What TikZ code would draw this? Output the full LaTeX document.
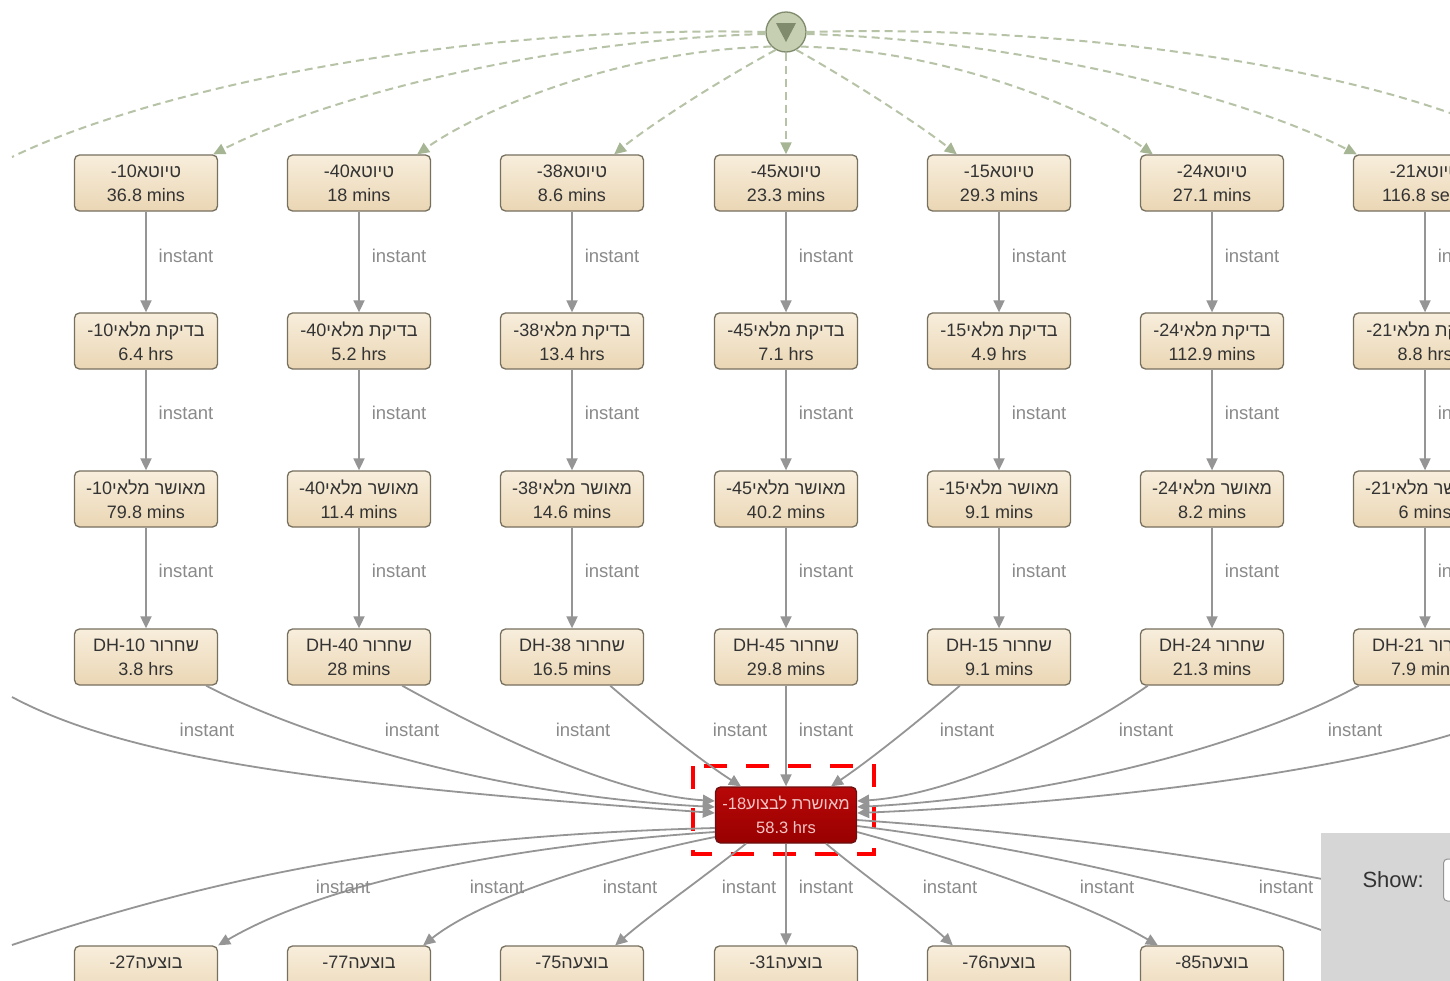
\documentclass[tikz,border=0pt]{standalone}
\usepackage{fontspec}
\setmainfont{Liberation Sans}
\newfontfamily\heb[Script=Hebrew]{Liberation Sans}
\TeXXeTstate=1
\usetikzlibrary{arrows.meta,shapes.geometric,calc}
\newcommand{\hb}[1]{{\heb\beginR #1\endR}}
\definecolor{boxtop}{HTML}{F8EEDC}
\definecolor{boxbot}{HTML}{EAD6B4}
\definecolor{boxline}{HTML}{77705F}
\definecolor{txt}{HTML}{333333}
\definecolor{edgec}{HTML}{959595}
\definecolor{lblc}{HTML}{8A8A8A}
\definecolor{redtop}{HTML}{B80808}
\definecolor{redbot}{HTML}{980000}
\definecolor{reddark}{HTML}{6A1010}
\definecolor{redtxt}{HTML}{F4C4C4}
\definecolor{greenc}{HTML}{B7C3A6}
\definecolor{greentip}{HTML}{A6B694}
\definecolor{startfill}{HTML}{C6CFB2}
\definecolor{startdark}{HTML}{7F8B6C}
\definecolor{panelc}{HTML}{D6D6D6}
\tikzset{
  box/.style={draw=boxline, line width=1.3pt, rounded corners=5pt, top color=boxtop, bottom color=boxbot,
    minimum width=143pt, minimum height=56pt, inner sep=0pt, align=center, text=txt,
    font=\fontsize{18}{24}\selectfont},
  redbox/.style={box, draw=reddark, top color=redtop, bottom color=redbot, text=redtxt, minimum width=141pt,
    font=\fontsize{16.5}{24}\selectfont},
  edge/.style={draw=edgec, line width=1.8pt, -{Triangle[length=12pt,width=11pt,fill=edgec]}},
  line/.style={draw=edgec, line width=1.8pt},
  lbl/.style={text=lblc, font=\fontsize{18.5}{20}\selectfont, inner sep=0pt},
  gline/.style={draw=greenc, line width=2pt, dash pattern=on 8pt off 5pt, -{Triangle[length=12pt,width=11pt,fill=greentip,color=greentip]}},
  gplain/.style={draw=greenc, line width=2pt, dash pattern=on 8pt off 5pt},
  selrect/.style={draw=red, line width=4.5pt, dash pattern=on 23pt off 19pt},
}
\begin{document}
\begin{tikzpicture}[x=1pt,y=-1pt]
\useasboundingbox (0,0) rectangle (1450,980);
\fill[white] (0,0) rectangle (1450,980);

% start node
\node[circle, draw=startdark, line width=1.3pt, fill=startfill, minimum size=40pt, inner sep=0pt] (S) at (786,32) {};
\fill[startdark] (776,23) -- (796,23) -- (786,42) -- cycle;

% columns
\foreach \i/\x/\n/\a/\b/\c/\d in {
  1/146/10/36.8 mins/6.4 hrs/79.8 mins/3.8 hrs,
  2/359/40/18 mins/5.2 hrs/11.4 mins/28 mins,
  3/572/38/8.6 mins/13.4 hrs/14.6 mins/16.5 mins,
  4/786/45/23.3 mins/7.1 hrs/40.2 mins/29.8 mins,
  5/999/15/29.3 mins/4.9 hrs/9.1 mins/9.1 mins,
  6/1212/24/27.1 mins/112.9 mins/8.2 mins/21.3 mins,
  7/1425/21/116.8 secs/8.8 hrs/6 mins/7.9 mins}{
  \node[box] (t\i) at (\x,183) {-\n\hb{טיוטא}\\\a};
  \node[box] (k\i) at (\x,341) {-\n\hb{בדיקת מלאי}\\\b};
  \node[box] (m\i) at (\x,499) {-\n\hb{מאושר מלאי}\\\c};
  \node[box] (d\i) at (\x,657) {DH-\n\ \hb{שחרור}\\\d};
  \draw[edge] (t\i) -- (k\i);
  \draw[edge] (k\i) -- (m\i);
  \draw[edge] (m\i) -- (d\i);
  \node[lbl] (lt\i) at ($(\x,256)+(40,0)$) {instant};
  \node[lbl] (lk\i) at ($(\x,413)+(40,0)$) {instant};
  \node[lbl] (lm\i) at ($(\x,571)+(40,0)$) {instant};
}

% red node
\node[redbox] (R) at (786,815) {-18\hb{מאושרת לבצוע}\\58.3 hrs};
\draw[selrect] (693,766) rectangle (874,854);

% bottom row
\foreach \i/\x/\n in {1/146/27,2/359/77,3/572/75,4/786/31,5/999/76,6/1212/85}{
  \node[box] (b\i) at (\x,974) {-\n\hb{בוצעה}\\ };
}

% off-screen coordinates
\coordinate (offLt) at (12,697);
\coordinate (offRt) at (1450,735);
\coordinate (offLb) at (12,945);
\coordinate (offRb) at (1450,905);
\coordinate (offLs) at (12,157);
\coordinate (offRs) at (1450,113);
\coordinate (b7) at (1362,946);

% dashed green from start
\draw[gplain] (S.west) .. controls (450,25) and (150,90) .. (offLs);
\draw[gline] ([yshift=-2pt]S.west) .. controls (550,40) and (330,95) .. ([xshift=-5pt]t1.north east);
\draw[gline] (S.south west) .. controls (620,50) and (480,110) .. ([xshift=-14pt]t2.north east);
\draw[gline] (S.-120) .. controls (720,80) and (650,125) .. ([xshift=-30pt]t3.north east);
\draw[gline] (S.south) -- (t4.north);
\draw[gline] (S.-60) .. controls (850,80) and (920,125) .. ([xshift=30pt]t5.north west);
\draw[gline] (S.south east) .. controls (950,50) and (1090,110) .. ([xshift=13pt]t6.north west);
\draw[gline] ([yshift=-2pt]S.east) .. controls (1020,40) and (1240,95) .. ([xshift=4pt]t7.north west);
\draw[gplain] (S.east) .. controls (1050,25) and (1300,60) .. (offRs);

% DH -> red
\draw[edge] (offLt) .. controls (130,760) and (330,785) .. ($(R.west)+(0,-2)$);
\draw[edge] ([xshift=-12pt]d1.south east) .. controls (290,730) and (480,795) .. ($(R.west)+(0,-8)$);
\draw[edge] ([xshift=-29pt]d2.south east) .. controls (500,740) and (620,795) .. ($(R.west)+(0,-14)$);
\draw[edge] ([xshift=-34pt]d3.south east) .. controls (650,720) and (700,760) .. ($(R.north)+(-45,0)$);
\draw[edge] (d4) -- (R);
\draw[edge] ([xshift=33pt]d5.south west) .. controls (920,720) and (870,760) .. ($(R.north)+(45,0)$);
\draw[edge] ([xshift=8pt]d6.south west) .. controls (1070,740) and (950,795) .. ($(R.east)+(0,-14)$);
\draw[edge] ([xshift=6pt]d7.south west) .. controls (1270,735) and (1080,795) .. ($(R.east)+(0,-8)$);
\draw[edge] (offRt) .. controls (1300,780) and (1050,805) .. ($(R.east)+(0,-2)$);

\foreach \x [count=\j] in {207,412,583,740,826,967,1146,1355}{
  \node[lbl] (lu\j) at (\x,730) {instant};
}

% red -> bottom
\draw[line] ($(R.west)+(0,13)$) .. controls (450,835) and (250,865) .. (offLb);
\draw[edge] ($(R.west)+(0,17)$) .. controls (520,845) and (330,880) .. (b1.north east);
\draw[edge] ($(R.west)+(0,22)$) .. controls (600,860) and (480,900) .. ([xshift=-8pt]b2.north east);
\draw[edge] ($(R.south)+(-40,0)$) .. controls (700,880) and (650,915) .. ([xshift=-29pt]b3.north east);
\draw[edge] (R) -- (b4);
\draw[edge] ($(R.south)+(40,0)$) .. controls (870,880) and (920,915) .. ([xshift=26pt]b5.north west);
\draw[edge] ($(R.east)+(0,17)$) .. controls (960,860) and (1080,900) .. ([xshift=18pt]b6.north west);
\draw[edge] ($(R.east)+(0,11)$) .. controls (1050,850) and (1250,900) .. (b7);
\draw[line] ($(R.east)+(0,5)$) .. controls (1000,830) and (1200,850) .. (offRb);

\foreach \x [count=\j] in {343,497,630,749,826,950,1107,1286}{
  \node[lbl] (ll\j) at (\x,887) {instant};
}

% right panel
\node[fill=panelc, minimum width=130pt, minimum height=150pt, inner sep=0pt, anchor=north west] (P) at (1321,833) {};
\node[text=txt, font=\fontsize{22}{26}\selectfont, anchor=west] (show) at (1359,880) {Show:};
\node[draw=edgec, fill=white, rounded corners=4pt, minimum width=30pt, minimum height=42pt, anchor=west, line width=1pt] (sel) at (1443,880) {};
\end{tikzpicture}
\end{document}
